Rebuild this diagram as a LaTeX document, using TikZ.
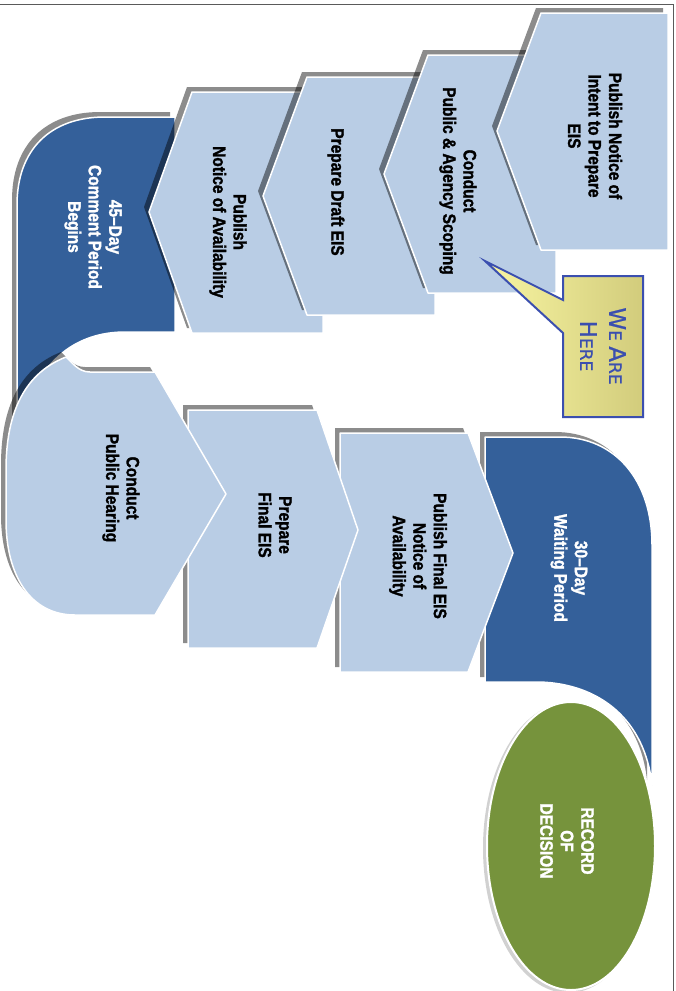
\documentclass[tikz,border=0pt]{standalone}
\usepackage{fontspec}
\setmainfont{Liberation Sans}
\newfontfamily\stepfont{Liberation Sans}[FakeStretch=0.86, FakeBold=1.6]
\newfontfamily\callfont{DejaVu Sans}[FakeBold=0.8]
\definecolor{lightblue}{HTML}{B9CDE5}
\definecolor{darkblue}{HTML}{34609A}
\definecolor{olivegreen}{HTML}{76933C}
\definecolor{callblue}{HTML}{3B4FAF}
\definecolor{yelA}{HTML}{F8F5A2}
\definecolor{yelB}{HTML}{D2CC7C}
\definecolor{framegray}{HTML}{5A5A5A}
\newcommand\shp[2]{\fill[shd,shift={(-5,-5)}] #2; \draw[#1] #2;}
\newcommand\bigc[1]{{\fontsize{23}{29}\selectfont #1}}
\newcommand\smc[1]{{\fontsize{17}{29}\selectfont #1}}
\begin{document}
\begin{tikzpicture}[x=1pt,y=-1pt,
  lb/.style={fill=lightblue, draw=white, line width=1.5pt, line join=round},
  db/.style={fill=darkblue, draw=white, line width=1.5pt, line join=round},
  shd/.style={fill=black, fill opacity=0.45, draw=none},
  lbl/.style={rotate=-90, align=center, inner sep=0pt, text=black,
    font=\stepfont\bfseries\fontsize{18}{20.5}\selectfont},
  lblw/.style={lbl, text=white},
  callout/.style={left color=yelA, right color=yelB, draw=callblue, line width=2pt, line join=miter},
  framestyle/.style={draw=framegray, line width=1pt}]
\useasboundingbox (0,0) rectangle (676,991);
\fill[white] (0,0) rectangle (676,991);
\draw[framestyle] (0,4.5) -- (673,4.5) -- (673,991);

% upper row (drawn from back to front)
\shp{db}{(175,117) -- (105,117) .. controls (50,117) and (17,150) .. (17,205) -- (17,440) -- (28,405) .. controls (42,362) and (75,332) .. (125,332) -- (175,332) -- cycle}
\shp{lb}{(323,92) -- (192,92) -- (149,212) -- (192,333) -- (323,333) -- cycle}
\shp{lb}{(435,77) -- (307,77) -- (263,196) -- (307,315) -- (435,315) -- cycle}
\shp{lb}{(556,55) -- (428,55) -- (384,174) -- (428,293) -- (556,293) -- cycle}
\shp{lb}{(668,13) -- (541,13) -- (497,131) -- (541,250) -- (668,250) -- cycle}

% lower row
\shp{db}{(485,437) -- (560,437) .. controls (615,437) and (652,480) .. (652,545) -- (652,785) .. controls (645,720) and (600,684) .. (540,682) -- (485,682) -- cycle}
\shp{lb}{(340,433) -- (468,433) -- (513,553) -- (468,672) -- (340,672) -- cycle}
\shp{lb}{(188,410) -- (317,410) -- (358,530) -- (317,648) -- (188,648) -- cycle}
\shp{lb}{(155,372) -- (226,494) -- (155,615) -- (75,615) .. controls (30,615) and (6,575) .. (6,520) -- (6,470) .. controls (6,420) and (20,375) .. (66,357) .. controls (72,362) and (78,372) .. (90,372) -- cycle}

% record of decision
\fill[black!18] (568,848) ellipse [x radius=85pt, y radius=145pt];
\draw[fill=olivegreen, draw=white, line width=2pt] (571,846) ellipse [x radius=84pt, y radius=144pt];

% labels
\node[lbl] (n1) at (595,136) {Publish Notice of\\Intent to Prepare\\EIS};
\node[lbl] (n2) at (458,181) {Conduct\\Public \& Agency Scoping};
\node[lbl] (n3) at (336,192) {Prepare Draft EIS};
\node[lbl] (n4) at (228,222) {Publish\\Notice of Availability};
\node[lblw] (n5) at (93,227) {45–Day\\Comment Period\\Begins};
\node[lbl] (n6) at (121,488) {Conduct\\Public Hearing};
\node[lbl] (n7) at (275,525) {Prepare\\Final EIS};
\node[lbl] (n8) at (418,556) {Publish Final EIS\\Notice of\\Availability};
\node[lblw] (n9) at (569,568) {30–Day\\Waiting Period};
\node[lblw] (n10) at (567,841) {RECORD\\OF\\DECISION};

% callout
\draw[callout] (563,276) -- (643,276) -- (643,417) -- (563,417) -- (563,333) -- (485,261) -- (563,300) -- cycle;
\node[rotate=-90, align=center, inner sep=0pt, text=callblue, font=\callfont\fontsize{17}{29}\selectfont] (here) at (603,346)
  {\bigc{W}\smc{E} \bigc{A}\smc{RE}\\\bigc{H}\smc{ERE}};
\end{tikzpicture}
\end{document}
